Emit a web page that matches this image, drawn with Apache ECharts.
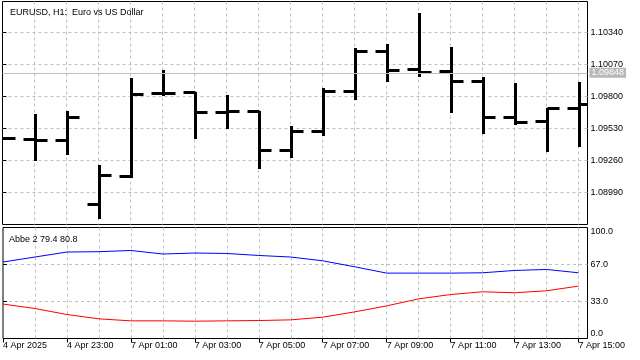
<!DOCTYPE html>
<html>
<head>
<meta charset="utf-8">
<script src="https://cdn.jsdelivr.net/npm/echarts@6/dist/echarts.min.js"></script>
<style>html,body{margin:0;padding:0;background:#fff;}#c{width:640px;height:360px;}</style>
</head>
<body>
<div id="c"></div>
<script>
var times = ['4 Apr 2025','4 Apr 22:00','4 Apr 23:00','7 Apr 00:00','7 Apr 01:00','7 Apr 02:00','7 Apr 03:00','7 Apr 04:00','7 Apr 05:00','7 Apr 06:00','7 Apr 07:00','7 Apr 08:00','7 Apr 09:00','7 Apr 10:00','7 Apr 11:00','7 Apr 12:00','7 Apr 13:00','7 Apr 14:00','7 Apr 15:00'];
var opens  = [1.09452,1.09440,1.09434,1.08891,1.09130,1.09828,1.09836,1.09670,1.09678,1.09349,1.09507,1.09847,1.10182,1.10030,1.10016,1.09927,1.09628,1.09592,1.09699];
var highs  = [1.09456,1.09651,1.09676,1.09220,1.09954,1.10022,1.09839,1.09811,1.09680,1.09549,1.09876,1.10213,1.10241,1.10509,1.10222,1.09969,1.09910,1.09699,1.09923];
var lows   = [1.09444,1.09265,1.09316,1.08773,1.09125,1.09811,1.09451,1.09533,1.09193,1.09290,1.09476,1.09775,1.09932,1.09974,1.09670,1.09493,1.09572,1.09341,1.09383];
var closes = [1.09448,1.09434,1.09625,1.09136,1.09822,1.09832,1.09670,1.09678,1.09349,1.09510,1.09847,1.10182,1.10022,1.10008,1.09927,1.09628,1.09581,1.09699,1.09738];
var abbeBlue = [68.9,73.4,77.9,78.2,79.3,76.1,77.0,76.6,74.8,73.4,70.0,64.6,58.9,58.9,58.9,59.2,61.3,62.2,59.2];
var abbeRed  = [31.0,27.0,21.6,17.7,15.9,15.9,15.6,15.9,16.2,16.8,19.2,24.0,29.4,35.7,39.6,42.1,41.2,43.0,47.2];
var currentPrice = 1.09848;
var abbeTickLabels = ['0.0','33.0','67.0','100.0'];
var titleText = 'EURUSD, H1:  Euro vs US Dollar';
var indicatorText = 'Abbe 2 79.4 80.8';

var FONT = "'Liberation Sans', Arial, sans-serif";
var ohlc = times.map(function (t, i) { return [i, opens[i], highs[i], lows[i], closes[i]]; });
var blueData = abbeBlue.map(function (v, i) { return [i, v]; });
var redData = abbeRed.map(function (v, i) { return [i, v]; });
var XMAX = 585 / 32;
var gridDash = { color: '#c0c0c0', type: [3, 3], width: 1 };

var chart = echarts.init(document.getElementById('c'), null, { renderer: 'canvas' });
chart.setOption({
  animation: false,
  backgroundColor: '#fff',
  textStyle: { fontFamily: FONT },
  title: [
    { text: titleText, left: 5, top: 3, textStyle: { fontSize: 9, fontWeight: 'normal', color: '#000', fontFamily: FONT } },
    { text: indicatorText, left: 4, top: 230, textStyle: { fontSize: 9, fontWeight: 'normal', color: '#000', fontFamily: FONT } }
  ],
  grid: [
    { left: 2.5, top: 1.5, width: 585, height: 223, show: true, borderColor: '#000', borderWidth: 1, backgroundColor: '#fff' },
    { left: 2.5, top: 227.5, width: 585, height: 111, show: true, borderColor: '#000', borderWidth: 1, backgroundColor: '#fff' }
  ],
  xAxis: [
    { type: 'value', gridIndex: 0, min: 0, max: XMAX, interval: 1,
      axisLine: { show: false }, axisTick: { show: false }, axisLabel: { show: false },
      splitLine: { show: true, showMinLine: false, showMaxLine: false, lineStyle: gridDash } },
    { type: 'value', gridIndex: 1, min: 0, max: XMAX, interval: 1,
      axisLine: { show: false }, axisTick: { show: false }, axisLabel: { show: false },
      splitLine: { show: true, showMinLine: false, showMaxLine: false, lineStyle: gridDash } },
    { type: 'value', gridIndex: 1, min: 0, max: XMAX, interval: 2, position: 'bottom',
      axisLine: { show: false },
      axisTick: { show: true, length: 4, lineStyle: { color: '#000' } },
      splitLine: { show: false },
      axisLabel: { show: true, margin: 3, align: 'left', color: '#000', fontSize: 9, fontFamily: FONT,
        showMaxLabel: false,
        formatter: function (v) { var i = Math.round(v); return (Math.abs(v - i) < 1e-6 && times[i]) ? times[i] : ''; } } }
  ],
  yAxis: [
    { type: 'value', gridIndex: 0, position: 'right', min: 1.08720, max: 1.10602, interval: 0.0027,
      axisLine: { show: false },
      axisTick: { show: true, length: 4, lineStyle: { color: '#000' } },
      splitLine: { show: true, showMinLine: false, showMaxLine: false, lineStyle: gridDash },
      axisLabel: { margin: 3, color: '#000', fontSize: 9, fontFamily: FONT, showMinLabel: false, showMaxLabel: false,
        formatter: function (v) { return v.toFixed(5); } } },
    { type: 'value', gridIndex: 1, position: 'right', min: 0, max: 100, interval: 100 / 3,
      axisLine: { show: false },
      axisTick: { show: true, length: 4, lineStyle: { color: '#000' } },
      splitLine: { show: true, showMinLine: false, showMaxLine: false, lineStyle: gridDash },
      axisLabel: { margin: 3, color: '#000', fontSize: 9, fontFamily: FONT,
        verticalAlignMaxLabel: 'top', verticalAlignMinLabel: 'bottom',
        formatter: function (v) { return abbeTickLabels[Math.round(v * 3 / 100)] || ''; } } }
  ],
  series: [
    { type: 'line', xAxisIndex: 0, yAxisIndex: 0, data: [], z: 1, silent: true,
      markLine: { silent: true, symbol: ['none', 'none'],
        lineStyle: { color: '#c0c0c0', type: 'solid', width: 1 },
        label: { show: true, position: 'end', distance: 2, formatter: currentPrice.toFixed(5),
          color: '#fff', backgroundColor: '#b8b8b8', padding: [1, 2, 0, 2], fontSize: 9, fontFamily: FONT },
        data: [{ yAxis: currentPrice }] } },
    { type: 'custom', xAxisIndex: 0, yAxisIndex: 0, data: ohlc, z: 3, clip: true,
      encode: { x: 0, y: [1, 2, 3, 4] },
      renderItem: function (params, api) {
        var x = api.value(0);
        var o = api.coord([x, api.value(1)]);
        var h = api.coord([x, api.value(2)]);
        var l = api.coord([x, api.value(3)]);
        var c = api.coord([x, api.value(4)]);
        var cx = Math.round(o[0]) + 0.5;
        var oy = Math.round(o[1]) + 0.5, cy = Math.round(c[1]) + 0.5;
        var st = { stroke: '#000', lineWidth: 3 };
        return { type: 'group', children: [
          { type: 'line', shape: { x1: cx, y1: Math.round(h[1]), x2: cx, y2: Math.round(l[1]) + 1 }, style: st },
          { type: 'line', shape: { x1: cx - 12, y1: oy, x2: cx, y2: oy }, style: st },
          { type: 'line', shape: { x1: cx, y1: cy, x2: cx + 12, y2: cy }, style: st }
        ] };
      } },
    { type: 'line', xAxisIndex: 1, yAxisIndex: 1, data: blueData, showSymbol: false, symbol: 'none',
      lineStyle: { color: '#0000ff', width: 1 }, z: 3 },
    { type: 'line', xAxisIndex: 1, yAxisIndex: 1, data: redData, showSymbol: false, symbol: 'none',
      lineStyle: { color: '#ff0000', width: 1 }, z: 3 }
  ]
});
</script>
</body>
</html>
